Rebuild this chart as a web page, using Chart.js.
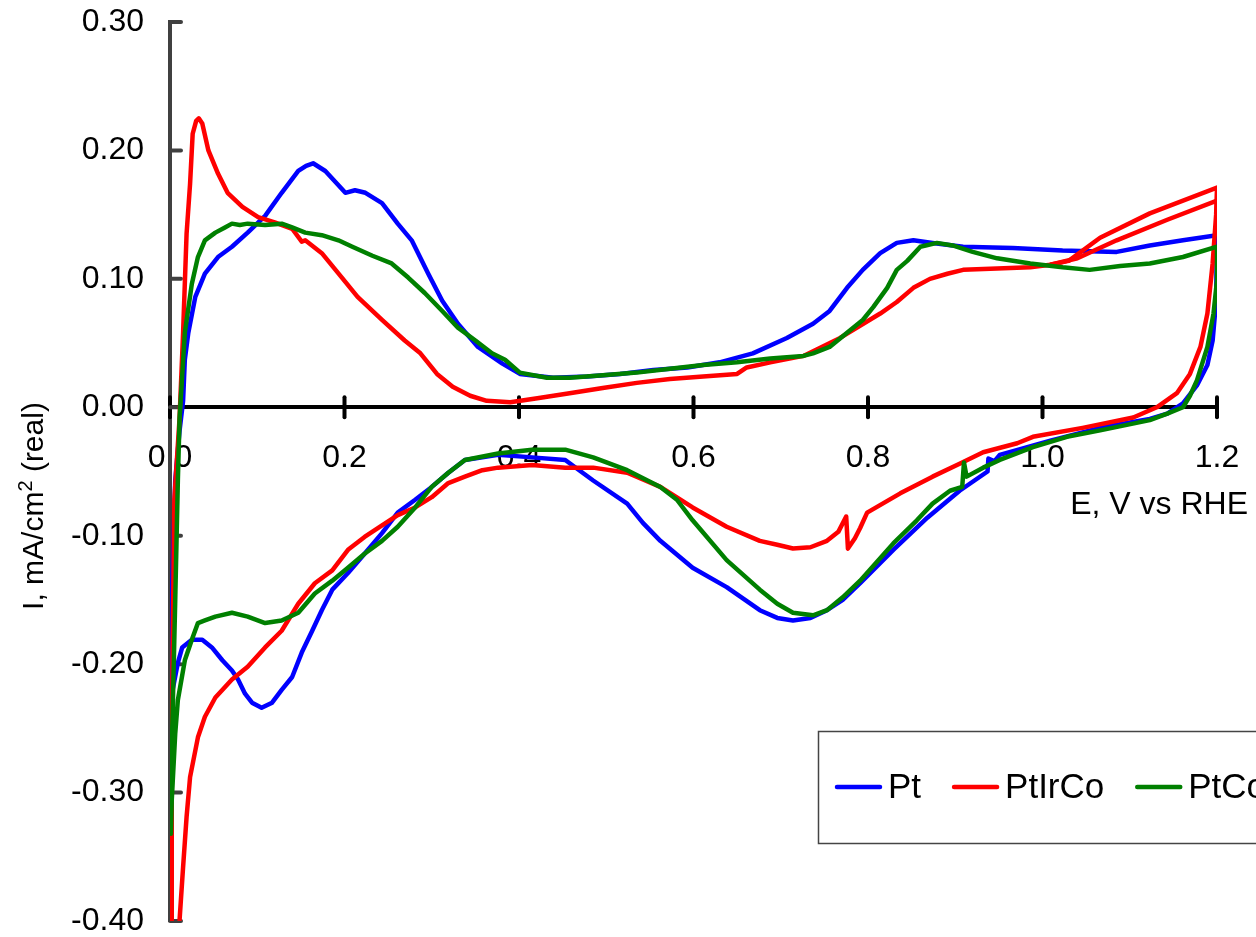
<!DOCTYPE html>
<html>
<head>
<meta charset="utf-8">
<script src="https://cdn.jsdelivr.net/npm/chart.js@4.4.0/dist/chart.umd.min.js"></script>
<style>
  html, body { margin: 0; padding: 0; background: #fff; }
  #wrap { width: 1256px; height: 937px; overflow: hidden; }
</style>
</head>
<body>
<div id="wrap"><canvas id="cv" width="1256" height="937"></canvas></div>
<script>
// axis ranges / ticks
const xMin = 0, xMax = 1.2, xStep = 0.2;
const yMin = -0.4, yMax = 0.3, yStep = 0.1;
const xTitle = 'E, V vs RHE';
const yTitle = ['I, mA/cm', '2', ' (real)'];

// Pt : anodic sweep 0 -> 1.2 then cathodic sweep back to 0
const ptE = [0.001, 0.002, 0.006, 0.011, 0.015, 0.017, 0.021, 0.029, 0.040, 0.055, 0.071, 0.089, 0.109, 0.128, 0.147, 0.156, 0.164, 0.178, 0.201, 0.212, 0.224, 0.243, 0.261, 0.277, 0.296, 0.312, 0.330, 0.353, 0.381, 0.401, 0.439, 0.478, 0.516, 0.554, 0.593, 0.630, 0.668, 0.707, 0.737, 0.756, 0.776, 0.794, 0.814, 0.833, 0.852, 0.874, 0.909, 0.966, 1.023, 1.085, 1.123, 1.161, 1.200,
  1.199, 1.195, 1.189, 1.177, 1.161, 1.143, 1.123, 1.066, 1.009, 0.951, 0.945, 0.938, 0.937, 0.905, 0.868, 0.829, 0.791, 0.771, 0.753, 0.734, 0.714, 0.696, 0.676, 0.638, 0.599, 0.562, 0.542, 0.524, 0.485, 0.453, 0.415, 0.376, 0.358, 0.338, 0.319, 0.300, 0.281, 0.261, 0.243, 0.223, 0.204, 0.186, 0.174, 0.163, 0.151, 0.140, 0.128, 0.117, 0.105, 0.094, 0.086, 0.078, 0.071, 0.060, 0.048, 0.037, 0.025, 0.014, 0.009, 0.003, 0.001];
const ptI = [-0.228, -0.150, -0.057, -0.018, 0.005, 0.037, 0.058, 0.086, 0.104, 0.117, 0.125, 0.136, 0.149, 0.167, 0.184, 0.188, 0.190, 0.184, 0.167, 0.169, 0.167, 0.159, 0.143, 0.130, 0.104, 0.083, 0.065, 0.047, 0.034, 0.026, 0.023, 0.024, 0.026, 0.029, 0.031, 0.035, 0.042, 0.054, 0.065, 0.075, 0.093, 0.107, 0.120, 0.128, 0.130, 0.128, 0.125, 0.124, 0.122, 0.121, 0.126, 0.130, 0.134,
  0.083, 0.052, 0.033, 0.017, 0.003, -0.005, -0.009, -0.016, -0.026, -0.037, -0.042, -0.040, -0.050, -0.065, -0.086, -0.111, -0.137, -0.150, -0.158, -0.164, -0.166, -0.164, -0.158, -0.140, -0.125, -0.104, -0.090, -0.075, -0.057, -0.041, -0.039, -0.037, -0.039, -0.041, -0.051, -0.062, -0.072, -0.082, -0.098, -0.114, -0.129, -0.142, -0.158, -0.174, -0.191, -0.210, -0.220, -0.230, -0.234, -0.230, -0.223, -0.212, -0.205, -0.197, -0.187, -0.181, -0.181, -0.187, -0.199, -0.220, -0.232];

// PtIrCo : full cycle (upper branch near 1.2 V belongs to this cycle)
const ptIrCoE = [0.002, 0.002, 0.003, 0.005, 0.011, 0.015, 0.019, 0.023, 0.026, 0.030, 0.033, 0.037, 0.044, 0.055, 0.066, 0.083, 0.101, 0.120, 0.140, 0.151, 0.155, 0.174, 0.197, 0.215, 0.243, 0.269, 0.287, 0.306, 0.324, 0.344, 0.363, 0.390, 0.421, 0.458, 0.496, 0.535, 0.573, 0.611, 0.650, 0.661, 0.688, 0.726, 0.768, 0.814, 0.833, 0.852, 0.871, 0.891, 0.909, 0.948, 0.986, 1.009, 1.030, 1.066, 1.123, 1.200,
  1.199, 1.195, 1.189, 1.181, 1.169, 1.154, 1.131, 1.104, 1.046, 0.989, 0.971, 0.932, 0.905, 0.874, 0.837, 0.799, 0.791, 0.785, 0.777, 0.775, 0.766, 0.753, 0.734, 0.714, 0.696, 0.676, 0.638, 0.599, 0.562, 0.524, 0.485, 0.453, 0.415, 0.376, 0.358, 0.338, 0.319, 0.300, 0.281, 0.261, 0.243, 0.223, 0.204, 0.186, 0.166, 0.147, 0.128, 0.109, 0.089, 0.071, 0.052, 0.040, 0.032, 0.023, 0.019, 0.015, 0.011];
const ptIrCoI = [-0.399, -0.306, -0.189, -0.072, -0.008, 0.058, 0.135, 0.174, 0.213, 0.223, 0.225, 0.221, 0.200, 0.182, 0.167, 0.156, 0.148, 0.144, 0.139, 0.129, 0.130, 0.120, 0.101, 0.086, 0.068, 0.052, 0.042, 0.026, 0.016, 0.009, 0.005, 0.004, 0.007, 0.011, 0.015, 0.019, 0.022, 0.024, 0.026, 0.031, 0.035, 0.040, 0.054, 0.073, 0.082, 0.093, 0.100, 0.104, 0.107, 0.108, 0.109, 0.111, 0.114, 0.132, 0.151, 0.171,
  0.150, 0.112, 0.073, 0.047, 0.026, 0.011, 0.000, -0.008, -0.016, -0.023, -0.028, -0.035, -0.044, -0.054, -0.067, -0.082, -0.094, -0.102, -0.110, -0.085, -0.097, -0.104, -0.109, -0.110, -0.107, -0.104, -0.093, -0.078, -0.062, -0.051, -0.047, -0.047, -0.045, -0.047, -0.049, -0.054, -0.059, -0.070, -0.078, -0.084, -0.092, -0.101, -0.111, -0.127, -0.137, -0.153, -0.174, -0.187, -0.202, -0.212, -0.226, -0.241, -0.257, -0.288, -0.319, -0.358, -0.399];

// PtIrCo : second cycle, where it separates from the first one near 1.2 V
const ptIrCo2E = [1.009, 1.040, 1.085, 1.143, 1.200, 1.199];
const ptIrCo2I = [0.111, 0.116, 0.130, 0.146, 0.161, 0.135];

// PtCo
const ptCoE = [0.001, 0.002, 0.006, 0.009, 0.011, 0.017, 0.025, 0.032, 0.040, 0.052, 0.063, 0.071, 0.080, 0.089, 0.109, 0.128, 0.140, 0.155, 0.174, 0.193, 0.209, 0.232, 0.254, 0.273, 0.292, 0.312, 0.330, 0.350, 0.369, 0.384, 0.401, 0.432, 0.458, 0.496, 0.535, 0.573, 0.611, 0.650, 0.688, 0.726, 0.737, 0.756, 0.776, 0.794, 0.806, 0.822, 0.833, 0.845, 0.860, 0.879, 0.897, 0.920, 0.948, 0.986, 1.023, 1.054, 1.089, 1.123, 1.161, 1.200,
  1.200, 1.196, 1.189, 1.177, 1.169, 1.161, 1.143, 1.123, 1.066, 1.028, 0.989, 0.951, 0.932, 0.913, 0.910, 0.908, 0.894, 0.874, 0.856, 0.829, 0.791, 0.771, 0.753, 0.737, 0.714, 0.696, 0.676, 0.638, 0.599, 0.581, 0.562, 0.524, 0.485, 0.453, 0.415, 0.376, 0.338, 0.319, 0.300, 0.281, 0.261, 0.243, 0.223, 0.204, 0.186, 0.166, 0.147, 0.128, 0.109, 0.089, 0.071, 0.052, 0.040, 0.032, 0.025, 0.017, 0.009, 0.006, 0.002, 0.001];
const ptCoI = [-0.332, -0.267, -0.150, -0.057, -0.008, 0.058, 0.096, 0.117, 0.130, 0.136, 0.140, 0.143, 0.142, 0.143, 0.142, 0.143, 0.140, 0.136, 0.134, 0.130, 0.125, 0.118, 0.112, 0.101, 0.089, 0.075, 0.062, 0.052, 0.042, 0.037, 0.027, 0.023, 0.023, 0.025, 0.027, 0.030, 0.033, 0.035, 0.038, 0.040, 0.042, 0.047, 0.058, 0.068, 0.078, 0.093, 0.107, 0.114, 0.125, 0.128, 0.126, 0.121, 0.116, 0.112, 0.109, 0.107, 0.110, 0.112, 0.117, 0.125,
  0.099, 0.073, 0.047, 0.021, 0.009, 0.000, -0.005, -0.010, -0.018, -0.023, -0.031, -0.041, -0.047, -0.054, -0.043, -0.062, -0.065, -0.075, -0.088, -0.106, -0.135, -0.148, -0.158, -0.162, -0.160, -0.153, -0.142, -0.119, -0.088, -0.072, -0.062, -0.049, -0.039, -0.033, -0.033, -0.036, -0.041, -0.051, -0.062, -0.078, -0.093, -0.104, -0.114, -0.125, -0.135, -0.145, -0.160, -0.166, -0.168, -0.163, -0.160, -0.163, -0.166, -0.168, -0.181, -0.197, -0.228, -0.254, -0.306, -0.332];

const pts = (e, i) => e.map((v, k) => ({ x: v, y: i[k] }));
const fontFam = '"Liberation Sans", Arial, sans-serif';

function line(label, data, color, order, inLegend) {
  return {
    label: label,
    data: data,
    showLine: true,
    borderColor: color,
    backgroundColor: color,
    borderWidth: 4.5,
    borderJoinStyle: 'round',
    borderCapStyle: 'round',
    pointRadius: 0,
    tension: 0,
    order: order,
    inLegend: inLegend
  };
}

// tick marks, axis titles and the boxed legend
const decorations = {
  id: 'decorations',
  beforeDatasetsDraw(chart) {
    const { ctx, scales: { x, y } } = chart;
    const y0 = y.getPixelForValue(0);
    ctx.save();
    ctx.lineCap = 'round';
    ctx.lineWidth = 4;
    ctx.strokeStyle = '#000';
    x.ticks.forEach(t => {
      const px = x.getPixelForValue(t.value);
      ctx.beginPath();
      ctx.moveTo(px, y0 - 10);
      ctx.lineTo(px, y0 + 10);
      ctx.stroke();
    });
    ctx.strokeStyle = '#404040';
    y.ticks.forEach(t => {
      const py = y.getPixelForValue(t.value);
      ctx.beginPath();
      ctx.moveTo(x.left, py);
      ctx.lineTo(x.left + 11, py);
      ctx.stroke();
    });
    ctx.restore();
  },
  afterDraw(chart) {
    const ctx = chart.ctx;
    ctx.save();
    ctx.fillStyle = '#000';
    ctx.textBaseline = 'middle';

    // x title
    ctx.font = '32px ' + fontFam;
    ctx.textAlign = 'right';
    ctx.fillText(xTitle, 1248, 505);

    // y title, with superscript
    ctx.save();
    ctx.translate(35, 506);
    ctx.rotate(-Math.PI / 2);
    ctx.textAlign = 'left';
    const big = '30px ' + fontFam, small = '20px ' + fontFam;
    ctx.font = big;
    const w1 = ctx.measureText(yTitle[0]).width;
    const w3 = ctx.measureText(yTitle[2]).width;
    ctx.font = small;
    const w2 = ctx.measureText(yTitle[1]).width;
    let sx = -(w1 + w2 + w3) / 2;
    ctx.font = big;
    ctx.fillText(yTitle[0], sx, 0);
    ctx.font = small;
    ctx.fillText(yTitle[1], sx + w1, -9);
    ctx.font = big;
    ctx.fillText(yTitle[2], sx + w1 + w2, 0);
    ctx.restore();

    // legend box (runs off the right edge like the original)
    ctx.fillStyle = '#fff';
    ctx.fillRect(818, 731, 460, 112);
    ctx.strokeStyle = '#444';
    ctx.lineWidth = 1.5;
    ctx.strokeRect(818.5, 731.5, 460, 112);
    ctx.font = '35px ' + fontFam;
    ctx.textAlign = 'left';
    let lx = 837;
    const ly = 787;
    chart.data.datasets.filter(d => d.inLegend).forEach(d => {
      ctx.strokeStyle = d.borderColor;
      ctx.lineWidth = 4.5;
      ctx.lineCap = 'round';
      ctx.beginPath();
      ctx.moveTo(lx, ly);
      ctx.lineTo(lx + 43, ly);
      ctx.stroke();
      ctx.fillStyle = '#000';
      ctx.fillText(d.label, lx + 51, ly + 1);
      lx += 51 + ctx.measureText(d.label).width + 33;
    });
    ctx.restore();
  }
};

new Chart(document.getElementById('cv'), {
  type: 'scatter',
  data: {
    datasets: [
      line('Pt', pts(ptE, ptI), '#0000ff', 3, true),
      line('PtIrCo', pts(ptIrCoE, ptIrCoI), '#ff0000', 2, true),
      line('PtCo', pts(ptCoE, ptCoI), '#008000', 1, true),
      line('PtIrCo cycle 2', pts(ptIrCo2E, ptIrCo2I), '#ff0000', 2, false)
    ]
  },
  options: {
    responsive: false,
    animation: false,
    devicePixelRatio: 1,
    layout: { padding: { top: 22, bottom: 16, left: 0, right: 39 } },
    plugins: { legend: { display: false }, tooltip: { enabled: false } },
    scales: {
      x: {
        type: 'linear',
        position: { y: 0 },
        min: xMin,
        max: xMax,
        grid: { display: false, drawTicks: false },
        border: { display: true, color: '#000', width: 4 },
        ticks: {
          stepSize: xStep,
          padding: 32,
          color: '#000',
          font: { family: fontFam, size: 32 },
          callback: v => (Math.abs(v) < 1e-9 ? 0 : v).toFixed(1)
        },
        afterFit: s => { s.paddingLeft = 0; s.paddingRight = 0; }
      },
      y: {
        type: 'linear',
        position: 'left',
        min: yMin,
        max: yMax,
        grid: { display: false, drawTicks: false },
        border: { display: true, color: '#404040', width: 4 },
        ticks: {
          stepSize: yStep,
          padding: 26,
          color: '#000',
          font: { family: fontFam, size: 32 },
          callback: v => (Math.abs(v) < 1e-9 ? 0 : v).toFixed(2)
        },
        afterFit: s => { s.width = 170; s.paddingTop = 0; s.paddingBottom = 0; }
      }
    }
  },
  plugins: [decorations]
});
</script>
</body>
</html>
